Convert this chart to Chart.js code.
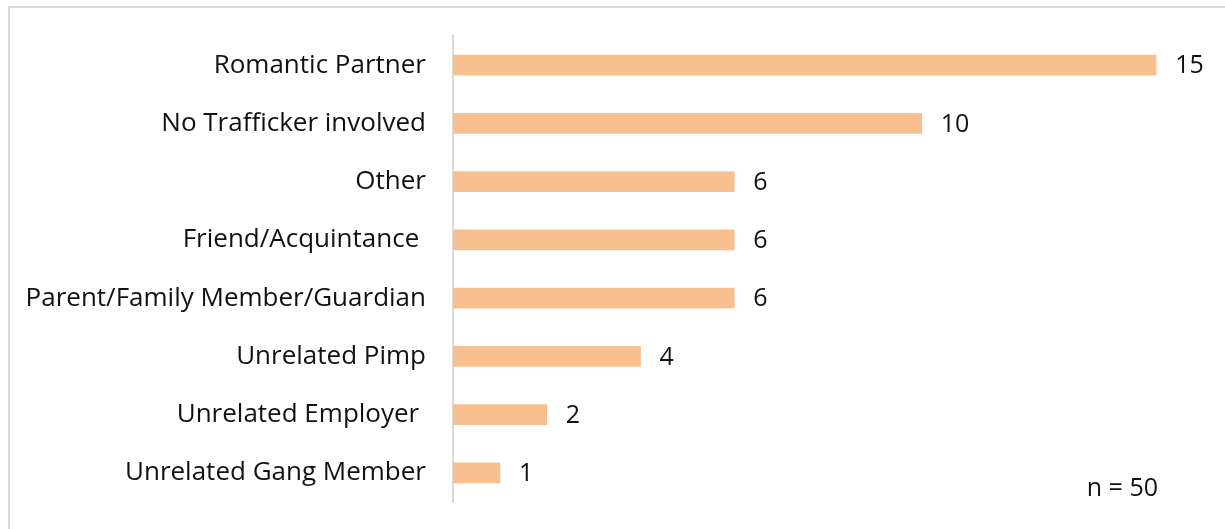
<!DOCTYPE html>
<html>
<head>
<meta charset="utf-8">
<script src="https://cdn.jsdelivr.net/npm/chart.js@4/dist/chart.umd.min.js"></script>
<style>
html,body{margin:0;padding:0;background:#fff;}
#frame{position:absolute;left:8px;top:6px;width:1217px;height:523px;border-left:2px solid #d9d9d9;border-top:2px solid #d9d9d9;box-sizing:border-box;}
#wrap{position:absolute;left:0;top:0;width:1225px;height:529px;}
</style>
</head>
<body>
<div id="frame"></div>
<div id="wrap"><canvas id="c" width="1225" height="529"></canvas></div>
<script>
const categories = ["Romantic Partner","No Trafficker involved","Other","Friend/Acquintance ","Parent/Family Member/Guardian","Unrelated Pimp","Unrelated Employer ","Unrelated Gang Member"];
const values = [15,10,6,6,6,4,2,1];
const noteText = "n = 50";

const FONT = "Open Sans";
const FS = 26;
const VFS = 25;

const valueLabels = {
  id:'valueLabels',
  afterDatasetsDraw(chart){
    const ctx = chart.ctx;
    const meta = chart.getDatasetMeta(0);
    ctx.save();
    ctx.font = VFS + "px '" + FONT + "'";
    ctx.fillStyle = "#111";
    ctx.textAlign = "left";
    ctx.textBaseline = "middle";
    meta.data.forEach((bar,i)=>{
      ctx.fillText(String(values[i]), bar.x + 19, bar.y + 1);
    });
    ctx.textAlign = "right";
    ctx.fillText(noteText, 1158, 489);
    ctx.restore();
  }
};

new Chart(document.getElementById('c'),{
  type:'bar',
  data:{labels:categories,datasets:[{data:values,backgroundColor:'#F9C08F',barThickness:20}]},
  options:{
    indexAxis:'y',
    responsive:false,
    animation:false,
    layout:{padding:{left:0,right:22,top:36,bottom:27}},
    plugins:{legend:{display:false},tooltip:{enabled:false}},
    scales:{
      x:{display:false,min:0,max:16},
      y:{
        grid:{display:false},
        border:{display:true,color:'#d9d9d9',width:2},
        ticks:{color:'#111',font:{family:FONT,size:FS},padding:19},
        afterFit(s){s.width=453;s.paddingTop=0;s.paddingBottom=0;}
      }
    }
  },
  plugins:[valueLabels]
});
</script>
</body>
</html>
